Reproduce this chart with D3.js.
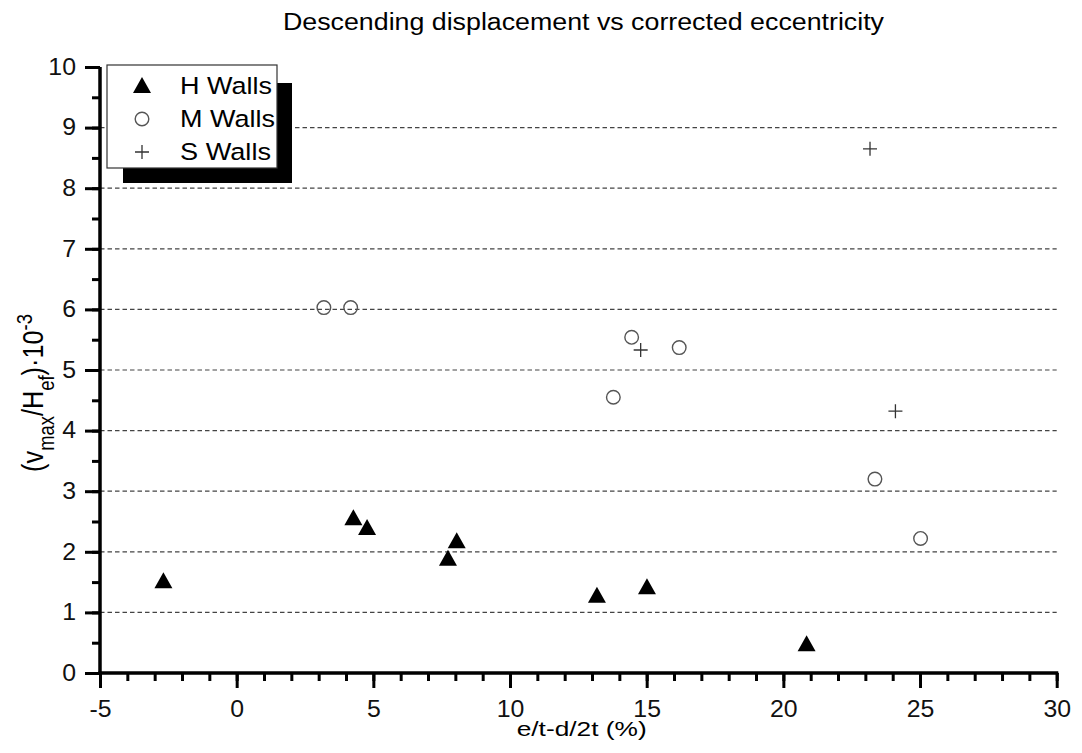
<!DOCTYPE html>
<html>
<head>
<meta charset="utf-8">
<script src="https://cdn.jsdelivr.net/npm/d3@7"></script>
<style>
  html, body { margin: 0; padding: 0; background: #fff; }
  svg { display: block; font-family: "Liberation Sans", Arial, sans-serif; }
</style>
</head>
<body>
<svg id="chart" width="1082" height="753"></svg>
<script>
// Series: x = e/t - d/2t (%), y = (v_max / H_ef) · 10^-3
const hX = [-2.68, 4.27, 4.77, 7.73, 8.05, 13.18, 15.01, 20.85];
const hY = [1.53, 2.57, 2.41, 1.90, 2.19, 1.29, 1.43, 0.49];
const mX = [3.19, 4.17, 13.78, 14.45, 16.19, 23.35, 25.02];
const mY = [6.03, 6.03, 4.55, 5.54, 5.37, 3.20, 2.22];
const sX = [14.78, 23.17, 24.10];
const sY = [5.33, 8.65, 4.32];

const xTicks = [-5, 0, 5, 10, 15, 20, 25, 30];
const yTicks = [0, 1, 2, 3, 4, 5, 6, 7, 8, 9, 10];
const gridValues = [1, 2, 3, 4, 5, 6, 7, 8, 9];
const seriesNames = ["H Walls", "M Walls", "S Walls"];

const svg = d3.select("#chart");
const plotLeft = 100, plotRight = 1056.7, plotTop = 67, plotBottom = 673;

const x = d3.scaleLinear().domain([-5, 30]).range([plotLeft, plotRight]);
const y = d3.scaleLinear().domain([0, 10]).range([plotBottom, plotTop]);

// Widen a text element horizontally, keeping its glyph height
function widen(sel, factorOrWidth, absolute) {
  sel.each(function () {
    const w = this.getComputedTextLength();
    const target = absolute ? factorOrWidth : w * factorOrWidth;
    this.setAttribute("textLength", target);
    this.setAttribute("lengthAdjust", "spacingAndGlyphs");
  });
}

// Title
svg.append("text")
  .attr("x", 583.5).attr("y", 30)
  .attr("text-anchor", "middle")
  .style("font-size", "23px")
  .text("Descending displacement vs corrected eccentricity")
  .call(widen, 601, true);

// Dashed horizontal grid
svg.append("g").selectAll("line").data(gridValues).join("line")
  .attr("x1", plotLeft).attr("x2", plotRight)
  .attr("y1", d => y(d)).attr("y2", d => y(d))
  .attr("stroke", "#444").attr("stroke-width", 1.2)
  .attr("stroke-dasharray", "4.5,3");

// Axes (major + minor ticks)
const xMinor = d3.range(-5, 30.01, 1);
const yMinor = d3.range(0, 10.01, 0.5);
const fmt = d => String(d);

const gx = svg.append("g").attr("transform", `translate(0,${plotBottom})`);
gx.call(d3.axisBottom(x).tickValues(xMinor).tickSize(8).tickFormat(""));
gx.append("g").call(d3.axisBottom(x).tickValues(xTicks).tickSize(15).tickPadding(13).tickFormat(fmt));

const gy = svg.append("g").attr("transform", `translate(${plotLeft},0)`);
gy.call(d3.axisLeft(y).tickValues(yMinor).tickSize(8).tickFormat(""));
gy.append("g").call(d3.axisLeft(y).tickValues(yTicks).tickSize(15).tickPadding(9).tickFormat(fmt));

svg.selectAll(".domain").style("stroke", "#000").style("stroke-width", "3px");
svg.selectAll(".tick line").style("stroke", "#000").style("stroke-width", "3px");
gy.selectAll(".domain").attr("d", `M0,${plotBottom + 1.5}V${plotTop}`);
gx.selectAll(".domain").attr("d", `M${plotLeft - 1.5},0H${plotRight + 1.5}`);

const tickText = svg.selectAll(".tick text")
  .style("font-size", "23px").attr("fill", "#111")
  .style("font-family", "'Liberation Sans', Arial, sans-serif");
widen(tickText, 1.08, false);

// Axis titles
svg.append("text")
  .attr("x", 581.7).attr("y", 736)
  .attr("text-anchor", "middle")
  .style("font-size", "21px")
  .text("e/t-d/2t (%)")
  .call(widen, 130, true);

const yl = svg.append("text")
  .attr("transform", "translate(43,393) rotate(-90) scale(1.15,1.35)")
  .attr("text-anchor", "middle")
  .style("font-size", "22px");
yl.append("tspan").text("(v");
yl.append("tspan").attr("dy", 8).style("font-size", "16px").text("max");
yl.append("tspan").attr("dy", -8).text("/H");
yl.append("tspan").attr("dy", 8).style("font-size", "16px").text("ef");
yl.append("tspan").attr("dy", -8).text(")·10");
yl.append("tspan").attr("dy", -8).style("font-size", "16px").text("-3");

// Marker shapes
function triPath(cx, cy, w, h) {
  return `M${cx},${cy - h / 2}L${cx + w / 2},${cy + h / 2}L${cx - w / 2},${cy + h / 2}Z`;
}
function plusPath(cx, cy, s) {
  return `M${cx - s / 2},${cy}H${cx + s / 2}M${cx},${cy - s / 2}V${cy + s / 2}`;
}

const hData = hX.map((v, i) => [v, hY[i]]);
const mData = mX.map((v, i) => [v, mY[i]]);
const sData = sX.map((v, i) => [v, sY[i]]);

svg.append("g").selectAll("path").data(hData).join("path")
  .attr("d", d => triPath(x(d[0]), y(d[1]), 18, 16))
  .attr("fill", "#000");

svg.append("g").selectAll("circle").data(mData).join("circle")
  .attr("cx", d => x(d[0])).attr("cy", d => y(d[1])).attr("r", 6.8)
  .attr("fill", "none").attr("stroke", "#555").attr("stroke-width", 1.4);

svg.append("g").selectAll("path").data(sData).join("path")
  .attr("d", d => plusPath(x(d[0]), y(d[1]), 14))
  .attr("stroke", "#333").attr("stroke-width", 1.3).attr("fill", "none");

// Legend with drop shadow
const lg = svg.append("g");
lg.append("rect").attr("x", 123).attr("y", 83).attr("width", 169).attr("height", 100).attr("fill", "#000");
lg.append("rect").attr("x", 107).attr("y", 65).attr("width", 170).attr("height", 103)
  .attr("fill", "#fff").attr("stroke", "#333").attr("stroke-width", 1.2);

const rowY = [85, 119, 152];
const rowBase = [94.3, 127.3, 160];
const rowWidth = [92, 95, 91];
lg.append("path").attr("d", triPath(142, rowY[0], 18, 16)).attr("fill", "#000");
lg.append("circle").attr("cx", 142).attr("cy", rowY[1]).attr("r", 6.8)
  .attr("fill", "none").attr("stroke", "#555").attr("stroke-width", 1.4);
lg.append("path").attr("d", plusPath(142, rowY[2], 14))
  .attr("stroke", "#333").attr("stroke-width", 1.3);

lg.selectAll("text.leg").data(seriesNames).join("text")
  .attr("class", "leg")
  .attr("x", 180).attr("y", (d, i) => rowBase[i])
  .style("font-size", "24.5px")
  .text(d => d)
  .each(function (d, i) {
    this.setAttribute("textLength", rowWidth[i]);
    this.setAttribute("lengthAdjust", "spacingAndGlyphs");
  });
</script>
</body>
</html>
